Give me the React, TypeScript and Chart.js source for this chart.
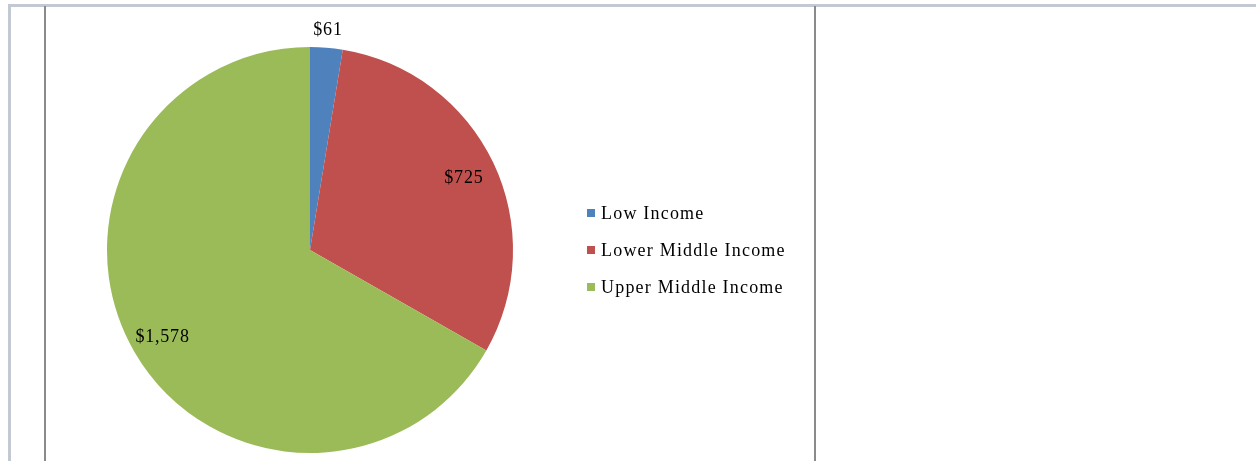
import React, { useEffect, useRef } from "react";
import { Chart, registerables } from "chart.js";

Chart.register(...registerables);

const categories = ["Low Income", "Lower Middle Income", "Upper Middle Income"];
const values = [61, 725, 1578];
const valueLabels = ["$61", "$725", "$1,578"];
const colors = ["#4F81BD", "#C0504D", "#9BBB59"];

const FONT = '"Liberation Serif", "Times New Roman", serif';

const labelPlugin = {
  id: "sliceLabels",
  afterDatasetsDraw(chart: any) {
    const ctx = chart.ctx;
    const meta = chart.getDatasetMeta(0);
    const total = values.reduce((a, b) => a + b, 0);
    ctx.save();
    ctx.font = `18px ${FONT}`;
    (ctx as any).letterSpacing = "0.8px";
    ctx.fillStyle = "#000";
    ctx.textAlign = "center";
    ctx.textBaseline = "middle";
    meta.data.forEach((arc: any, i: number) => {
      const { x, y, startAngle, endAngle, outerRadius } = arc.getProps(
        ["x", "y", "startAngle", "endAngle", "outerRadius"],
        true
      );
      const mid = (startAngle + endAngle) / 2;
      const frac = values[i] / total;
      const r = frac < 0.05 ? outerRadius + 19 : outerRadius * 0.84;
      ctx.fillText(valueLabels[i], x + Math.cos(mid) * r, y + Math.sin(mid) * r + 2);
    });
    ctx.restore();
  },
};

export default function App() {
  const ref = useRef<HTMLCanvasElement | null>(null);
  useEffect(() => {
    document.body.style.margin = "0";
    const chart = new Chart(ref.current!, {
      type: "pie",
      data: {
        labels: categories,
        datasets: [
          {
            data: values,
            backgroundColor: colors,
            borderWidth: 0,
          },
        ],
      },
      options: {
        animation: false,
        responsive: false,
        maintainAspectRatio: false,
        layout: { padding: { left: 107, right: 743, top: 47, bottom: 8 } },
        plugins: {
          legend: { display: false },
          tooltip: { enabled: false },
        },
      },
      plugins: [labelPlugin],
    });
    return () => chart.destroy();
  }, []);

  return (
    <div style={{ position: "relative", width: 1256, height: 461, background: "#fff", overflow: "hidden" }}>
      <div style={{ position: "absolute", left: 8, top: 4, width: 1248, height: 3, background: "#C3C9D3" }} />
      <div style={{ position: "absolute", left: 8, top: 4, width: 3, height: 457, background: "#C3C9D3" }} />
      <div style={{ position: "absolute", left: 44, top: 6, width: 2, height: 455, background: "#8A8A8A" }} />
      <div style={{ position: "absolute", left: 814, top: 6, width: 2, height: 455, background: "#8A8A8A" }} />
      <canvas
        ref={ref}
        width={1256}
        height={461}
        style={{ position: "absolute", left: 0, top: 0, width: 1256, height: 461 }}
      />
      {categories.map((c, i) => (
        <div
          key={c}
          style={{
            position: "absolute",
            left: 587,
            top: 201 + i * 37,
            height: 24,
            display: "flex",
            alignItems: "center",
            fontFamily: FONT,
            fontSize: 18,
            letterSpacing: "1.2px",
            color: "#000",
            whiteSpace: "nowrap",
          }}
        >
          <span style={{ display: "inline-block", width: 8, height: 8, background: colors[i], marginRight: 6 }} />
          {c}
        </div>
      ))}
    </div>
  );
}
